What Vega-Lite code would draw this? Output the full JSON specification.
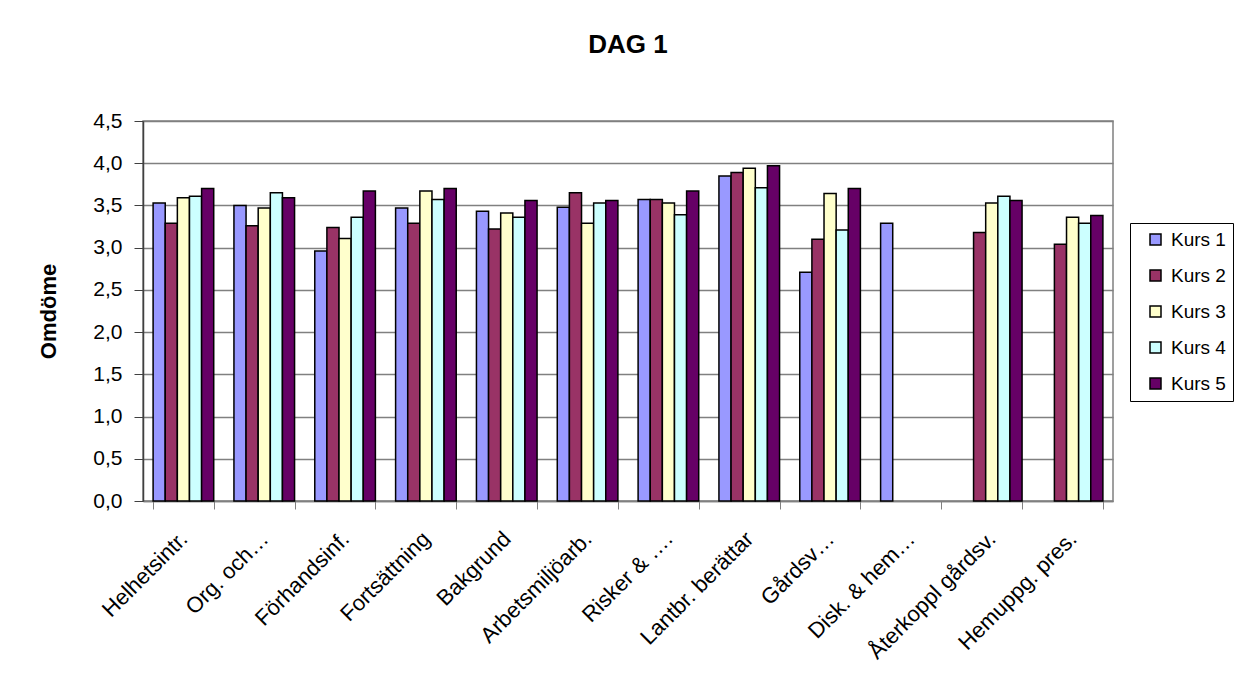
{
  "$schema": "https://vega.github.io/schema/vega-lite/v6.json",
  "autosize": {"type": "none"},
  "width": 970,
  "height": 380,
  "padding": {"left": 143, "top": 121, "right": 131, "bottom": 187},
  "background": "white",
  "title": {
    "text": "DAG 1",
    "font": "Liberation Sans",
    "fontSize": 26,
    "fontWeight": "bold",
    "color": "black",
    "offset": 52
  },
  "config": {
    "font": "Liberation Sans",
    "view": {"stroke": "#808080", "strokeWidth": 1.5}
  },
  "data": {
    "values": [
      {"kategori": "Helhetsintr.", "kurs": "Kurs 1", "omdome": 3.53},
      {"kategori": "Helhetsintr.", "kurs": "Kurs 2", "omdome": 3.29},
      {"kategori": "Helhetsintr.", "kurs": "Kurs 3", "omdome": 3.59},
      {"kategori": "Helhetsintr.", "kurs": "Kurs 4", "omdome": 3.61},
      {"kategori": "Helhetsintr.", "kurs": "Kurs 5", "omdome": 3.70},
      {"kategori": "Org. och…", "kurs": "Kurs 1", "omdome": 3.50},
      {"kategori": "Org. och…", "kurs": "Kurs 2", "omdome": 3.26},
      {"kategori": "Org. och…", "kurs": "Kurs 3", "omdome": 3.47},
      {"kategori": "Org. och…", "kurs": "Kurs 4", "omdome": 3.65},
      {"kategori": "Org. och…", "kurs": "Kurs 5", "omdome": 3.59},
      {"kategori": "Förhandsinf.", "kurs": "Kurs 1", "omdome": 2.96},
      {"kategori": "Förhandsinf.", "kurs": "Kurs 2", "omdome": 3.24},
      {"kategori": "Förhandsinf.", "kurs": "Kurs 3", "omdome": 3.11},
      {"kategori": "Förhandsinf.", "kurs": "Kurs 4", "omdome": 3.36},
      {"kategori": "Förhandsinf.", "kurs": "Kurs 5", "omdome": 3.67},
      {"kategori": "Fortsättning", "kurs": "Kurs 1", "omdome": 3.47},
      {"kategori": "Fortsättning", "kurs": "Kurs 2", "omdome": 3.29},
      {"kategori": "Fortsättning", "kurs": "Kurs 3", "omdome": 3.67},
      {"kategori": "Fortsättning", "kurs": "Kurs 4", "omdome": 3.57},
      {"kategori": "Fortsättning", "kurs": "Kurs 5", "omdome": 3.70},
      {"kategori": "Bakgrund", "kurs": "Kurs 1", "omdome": 3.43},
      {"kategori": "Bakgrund", "kurs": "Kurs 2", "omdome": 3.22},
      {"kategori": "Bakgrund", "kurs": "Kurs 3", "omdome": 3.41},
      {"kategori": "Bakgrund", "kurs": "Kurs 4", "omdome": 3.36},
      {"kategori": "Bakgrund", "kurs": "Kurs 5", "omdome": 3.56},
      {"kategori": "Arbetsmiljöarb.", "kurs": "Kurs 1", "omdome": 3.48},
      {"kategori": "Arbetsmiljöarb.", "kurs": "Kurs 2", "omdome": 3.65},
      {"kategori": "Arbetsmiljöarb.", "kurs": "Kurs 3", "omdome": 3.29},
      {"kategori": "Arbetsmiljöarb.", "kurs": "Kurs 4", "omdome": 3.53},
      {"kategori": "Arbetsmiljöarb.", "kurs": "Kurs 5", "omdome": 3.56},
      {"kategori": "Risker & ….", "kurs": "Kurs 1", "omdome": 3.57},
      {"kategori": "Risker & ….", "kurs": "Kurs 2", "omdome": 3.57},
      {"kategori": "Risker & ….", "kurs": "Kurs 3", "omdome": 3.53},
      {"kategori": "Risker & ….", "kurs": "Kurs 4", "omdome": 3.39},
      {"kategori": "Risker & ….", "kurs": "Kurs 5", "omdome": 3.67},
      {"kategori": "Lantbr. berättar", "kurs": "Kurs 1", "omdome": 3.85},
      {"kategori": "Lantbr. berättar", "kurs": "Kurs 2", "omdome": 3.89},
      {"kategori": "Lantbr. berättar", "kurs": "Kurs 3", "omdome": 3.94},
      {"kategori": "Lantbr. berättar", "kurs": "Kurs 4", "omdome": 3.71},
      {"kategori": "Lantbr. berättar", "kurs": "Kurs 5", "omdome": 3.97},
      {"kategori": "Gårdsv…", "kurs": "Kurs 1", "omdome": 2.71},
      {"kategori": "Gårdsv…", "kurs": "Kurs 2", "omdome": 3.10},
      {"kategori": "Gårdsv…", "kurs": "Kurs 3", "omdome": 3.64},
      {"kategori": "Gårdsv…", "kurs": "Kurs 4", "omdome": 3.21},
      {"kategori": "Gårdsv…", "kurs": "Kurs 5", "omdome": 3.70},
      {"kategori": "Disk. & hem…", "kurs": "Kurs 1", "omdome": 3.29},
      {"kategori": "Återkoppl gårdsv.", "kurs": "Kurs 2", "omdome": 3.18},
      {"kategori": "Återkoppl gårdsv.", "kurs": "Kurs 3", "omdome": 3.53},
      {"kategori": "Återkoppl gårdsv.", "kurs": "Kurs 4", "omdome": 3.61},
      {"kategori": "Återkoppl gårdsv.", "kurs": "Kurs 5", "omdome": 3.56},
      {"kategori": "Hemuppg. pres.", "kurs": "Kurs 2", "omdome": 3.04},
      {"kategori": "Hemuppg. pres.", "kurs": "Kurs 3", "omdome": 3.36},
      {"kategori": "Hemuppg. pres.", "kurs": "Kurs 4", "omdome": 3.29},
      {"kategori": "Hemuppg. pres.", "kurs": "Kurs 5", "omdome": 3.38}
    ]
  },
  "mark": {"type": "bar", "stroke": "black", "strokeWidth": 1.5},
  "encoding": {
    "x": {
      "field": "kategori",
      "type": "nominal",
      "sort": null,
      "scale": {"paddingInner": 0.25, "paddingOuter": 0.125},
      "axis": {
        "title": null,
        "labelAngle": -45,
        "labelAlign": "right",
        "labelBaseline": "middle",
        "labelFontSize": 22,
        "labelColor": "black",
        "labelPadding": 26,
        "labelLimit": 300,
        "tickBand": "extent",
        "tickSize": 8,
        "tickColor": "#808080",
        "domainColor": "#808080",
        "domainWidth": 1.5,
        "grid": false
      }
    },
    "xOffset": {
      "field": "kurs",
      "type": "nominal",
      "scale": {"domain": ["Kurs 1", "Kurs 2", "Kurs 3", "Kurs 4", "Kurs 5"]}
    },
    "y": {
      "field": "omdome",
      "type": "quantitative",
      "scale": {"domain": [0, 4.5], "nice": false},
      "axis": {
        "title": "Omdöme",
        "titleFontSize": 22,
        "titleFontWeight": "bold",
        "titleColor": "black",
        "titlePadding": 32,
        "values": [0, 0.5, 1, 1.5, 2, 2.5, 3, 3.5, 4, 4.5],
        "labelExpr": "replace(format(datum.value, '.1f'), '.', ',')",
        "labelFontSize": 21,
        "labelColor": "black",
        "labelPadding": 12,
        "tickSize": 9,
        "tickColor": "#404040",
        "domainColor": "#404040",
        "domainWidth": 1.5,
        "gridColor": "#808080",
        "gridWidth": 1.5
      }
    },
    "fill": {
      "field": "kurs",
      "type": "nominal",
      "scale": {
        "domain": ["Kurs 1", "Kurs 2", "Kurs 3", "Kurs 4", "Kurs 5"],
        "range": ["#9999FF", "#993366", "#FFFFCC", "#CCFFFF", "#660066"]
      },
      "legend": {
        "title": null,
        "orient": "none",
        "legendX": 987,
        "legendY": 102,
        "strokeColor": "black",
        "padding": 7,
        "symbolOffset": 9,
        "symbolType": "square",
        "symbolSize": 121,
        "symbolStrokeColor": "black",
        "symbolStrokeWidth": 1.5,
        "labelFontSize": 19,
        "labelColor": "black",
        "labelOffset": 6,
        "rowPadding": 16
      }
    }
  }
}
